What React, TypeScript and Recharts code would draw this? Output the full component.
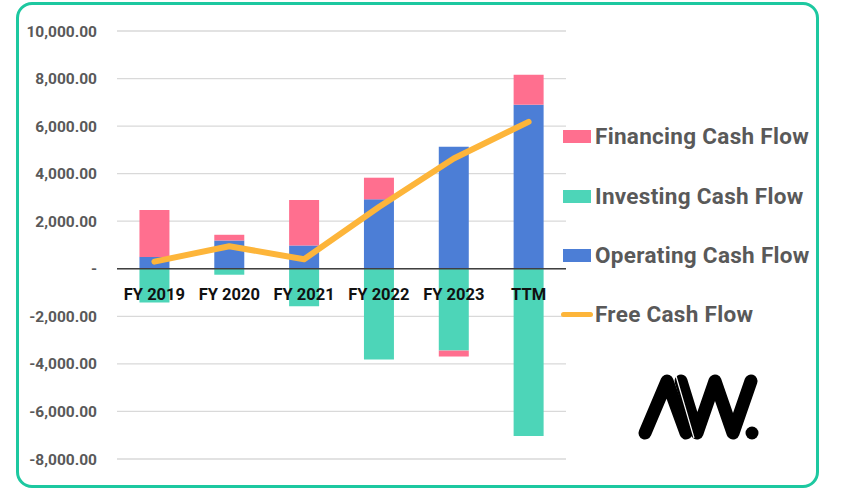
import { ComposedChart, Bar, Line, XAxis, YAxis, CartesianGrid, ReferenceLine } from "recharts";

const categories = ["FY 2019", "FY 2020", "FY 2021", "FY 2022", "FY 2023", "TTM"];
const operating = [500, 1190, 980, 2920, 5130, 6900];
const investing = [-1420, -250, -1580, -3820, -3440, -7030];
const financing = [1970, 240, 1910, 910, -250, 1260];
const freeCashFlow = [300, 950, 400, 2600, 4640, 6180];
const yTicks = [-8000, -6000, -4000, -2000, 0, 2000, 4000, 6000, 8000, 10000];

const W = 841;
const H = 489;
const X_AXIS_H = 30;
const MARGIN = { top: 31, right: 275, bottom: 0, left: 17 };
const Y_MIN = -8000;
const Y_MAX = 10000;
const PLOT_H = H - MARGIN.top - MARGIN.bottom - X_AXIS_H;
const ZERO_Y = MARGIN.top + (PLOT_H * Y_MAX) / (Y_MAX - Y_MIN);

const COLORS = {
  financing: "#FF6F8F",
  investing: "#4DD5B8",
  operating: "#4C7ED6",
  fcf: "#FDB53A",
  frame: "#1DC8A0",
};

const FONT = "Roboto, 'Noto Sans', sans-serif";

const data = categories.map((name, i) => ({
  name,
  operating: operating[i],
  investing: investing[i],
  financing: financing[i],
  fcf: freeCashFlow[i],
}));

const legendItems = [
  { label: "Financing Cash Flow", color: COLORS.financing, kind: "bar", cy: 136 },
  { label: "Investing Cash Flow", color: COLORS.investing, kind: "bar", cy: 196 },
  { label: "Operating Cash Flow", color: COLORS.operating, kind: "bar", cy: 255 },
  { label: "Free Cash Flow", color: COLORS.fcf, kind: "line", cy: 314 },
];

const fmt = (v: number) =>
  v === 0 ? "-" : v.toLocaleString("en-US", { minimumFractionDigits: 2, maximumFractionDigits: 2 });

// labels sit just under the zero line, not at the bottom of the plot
function CategoryTick({ x, payload }: any) {
  return (
    <text
      x={x}
      y={ZERO_Y + 31}
      textAnchor="middle"
      fontFamily={FONT}
      fontWeight={700}
      fontSize={16.5}
      fill="#111"
    >
      {payload.value}
    </text>
  );
}

function Logo() {
  return (
    <svg width={W} height={H} style={{ position: "absolute", left: 0, top: 0, pointerEvents: "none" }}>
      <g stroke="#000" strokeWidth={13} strokeLinecap="round" strokeLinejoin="round" fill="none">
        <polyline points="645,433 667,381 686,433" />
        <polyline points="681,381 697,433 715,381 733,433 751,381" />
      </g>
      <line x1="676" y1="376" x2="694" y2="438" stroke="#fff" strokeWidth={1.2} />
      <circle cx={752} cy={433} r={6.5} fill="#000" />
    </svg>
  );
}

export default function App() {
  return (
    <div style={{ position: "absolute", left: 0, top: 0, width: W, height: H, background: "#fff" }}>
      <div
        style={{
          position: "absolute",
          left: 16,
          top: 2,
          width: 797,
          height: 480,
          border: `3px solid ${COLORS.frame}`,
          borderRadius: 16,
        }}
      />
      <div style={{ position: "absolute", left: 0, top: 0 }}>
        <ComposedChart width={W} height={H} data={data} margin={MARGIN} stackOffset="sign" barCategoryGap="30%">
          <CartesianGrid vertical={false} stroke="#d9d9d9" strokeWidth={1.3} />
          <XAxis
            dataKey="name"
            axisLine={false}
            tickLine={false}
            height={X_AXIS_H}
            tick={<CategoryTick />}
            interval={0}
          />
          <YAxis
            domain={[Y_MIN, Y_MAX]}
            ticks={yTicks}
            width={100}
            axisLine={false}
            tickLine={false}
            tickSize={0}
            tickMargin={20}
            tickFormatter={fmt}
            tick={{ fontFamily: FONT, fontWeight: 700, fontSize: 15.5, fill: "#595959" }}
          />
          <Bar dataKey="operating" stackId="cf" fill={COLORS.operating} isAnimationActive={false} />
          <Bar dataKey="investing" stackId="cf" fill={COLORS.investing} isAnimationActive={false} />
          <Bar dataKey="financing" stackId="cf" fill={COLORS.financing} isAnimationActive={false} />
          <ReferenceLine y={0} stroke="#404040" strokeWidth={1.5} />
          <Line
            dataKey="fcf"
            type="linear"
            stroke={COLORS.fcf}
            strokeWidth={6}
            strokeLinecap="round"
            strokeLinejoin="round"
            dot={false}
            activeDot={false}
            isAnimationActive={false}
          />
        </ComposedChart>
      </div>
      {legendItems.map((it) => (
        <div
          key={it.label}
          style={{
            position: "absolute",
            left: 561,
            top: it.cy - 15,
            height: 30,
            display: "flex",
            alignItems: "center",
            fontFamily: FONT,
            fontWeight: 700,
            fontSize: 22.5,
            letterSpacing: 0.3,
            color: "#595959",
            whiteSpace: "nowrap",
          }}
        >
          {it.kind === "bar" ? (
            <span style={{ display: "inline-block", width: 28, height: 13, background: it.color, marginLeft: 2, marginRight: 4 }} />
          ) : (
            <span style={{ display: "inline-block", width: 32, height: 5, borderRadius: 3, background: it.color, marginRight: 2 }} />
          )}
          <span style={{ lineHeight: "30px" }}>{it.label}</span>
        </div>
      ))}
      <Logo />
    </div>
  );
}
